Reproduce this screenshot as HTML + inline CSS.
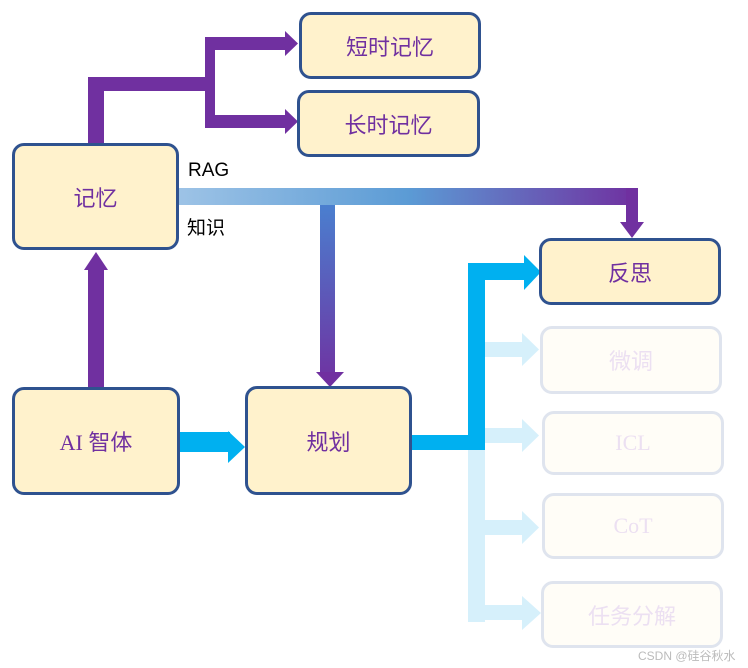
<!DOCTYPE html>
<html><head><meta charset="utf-8"><style>
html,body{margin:0;padding:0;background:#fff;}
body{width:748px;height:668px;position:relative;overflow:hidden;font-family:"Liberation Sans","Noto Sans CJK SC",sans-serif;}
.b{position:absolute;box-sizing:border-box;border:3px solid #2f528f;border-radius:12px;background:#fff2cc;color:#7030a0;font-size:22px;display:flex;align-items:center;justify-content:center;font-family:"Liberation Serif","Noto Sans CJK SC",serif;}
.f{border-color:#dfe4ee;background:#fffdf7;color:#ece0f2;}
.t{position:absolute;font-size:19px;color:#000;}
</style></head><body>
<svg width="748" height="668" style="position:absolute;left:0;top:0">
<defs>
<linearGradient id="g1" x1="179" y1="0" x2="638" y2="0" gradientUnits="userSpaceOnUse"><stop offset="0" stop-color="#9dc3e6"/><stop offset="0.5" stop-color="#5b9bd5"/><stop offset="1" stop-color="#7030a0"/></linearGradient>
<linearGradient id="g2" x1="0" y1="205" x2="0" y2="387" gradientUnits="userSpaceOnUse"><stop offset="0" stop-color="#4a7fcf"/><stop offset="1" stop-color="#7030a0"/></linearGradient>
</defs>
<g fill="#7030a0">
<rect x="88" y="77" width="16" height="67"/>
<rect x="88" y="77" width="127" height="14"/>
<rect x="205" y="37" width="10" height="91"/>
<rect x="205" y="37" width="82" height="13"/>
<polygon points="285,31 298,43.5 285,56"/>
<rect x="205" y="115" width="82" height="13"/>
<polygon points="285,109 298,121.5 285,134"/>
<rect x="88" y="270" width="16" height="117"/>
<polygon points="84,270 108,270 96,252"/>
</g>
<rect x="179" y="188" width="459" height="17" fill="url(#g1)"/>
<rect x="626" y="188" width="12" height="36" fill="#7030a0"/>
<polygon points="620,222 644,222 632,238" fill="#7030a0"/>
<rect x="320" y="205" width="15" height="168" fill="url(#g2)"/>
<polygon points="316,372 344,372 330,387" fill="#7030a0"/>
<g fill="#d6f0fb">
<rect x="468" y="450" width="17" height="172"/>
<rect x="468" y="342" width="56" height="15"/><polygon points="522,333 539,349.5 522,366"/>
<rect x="468" y="428" width="56" height="15"/><polygon points="522,419 539,435.5 522,452"/>
<rect x="468" y="520" width="56" height="15"/><polygon points="522,511 539,527.5 522,544"/>
<rect x="468" y="605" width="56" height="15"/><polygon points="522,596 541,613 522,630"/>
</g>
<g fill="#00b0f0">
<rect x="180" y="432" width="50" height="20"/><polygon points="228,431 245,447 228,463"/>
<rect x="410" y="435" width="75" height="15"/>
<rect x="468" y="263" width="17" height="187"/>
<rect x="468" y="263" width="58" height="17"/><polygon points="524,255 541,272 524,290"/>
</g>
</svg>
<div class="b" style="left:299px;top:12px;width:182px;height:67px;font-family:'Liberation Sans','Noto Sans CJK SC',sans-serif">短时记忆</div>
<div class="b" style="left:297px;top:90px;width:183px;height:67px;font-family:'Liberation Sans','Noto Sans CJK SC',sans-serif">长时记忆</div>
<div class="b" style="left:12px;top:143px;width:167px;height:107px;font-family:'Liberation Sans','Noto Sans CJK SC',sans-serif">记忆</div>
<div class="b" style="left:539px;top:238px;width:182px;height:67px;font-family:'Liberation Sans','Noto Sans CJK SC',sans-serif">反思</div>
<div class="b f" style="left:540px;top:326px;width:182px;height:68px">微调</div>
<div class="b f" style="left:542px;top:411px;width:182px;height:64px">ICL</div>
<div class="b f" style="left:542px;top:493px;width:182px;height:66px">CoT</div>
<div class="b f" style="left:541px;top:581px;width:182px;height:67px">任务分解</div>
<div class="b" style="left:12px;top:387px;width:168px;height:108px">AI 智体</div>
<div class="b" style="left:245px;top:386px;width:167px;height:109px;font-family:'Liberation Sans','Noto Sans CJK SC',sans-serif">规划</div>
<div class="t" style="left:188px;top:160px">RAG</div>
<div class="t" style="left:187px;top:213px">知识</div>
<div style="position:absolute;left:638px;top:647px;font-size:12px;color:#bbb">CSDN @硅谷秋水</div>
</body></html>
